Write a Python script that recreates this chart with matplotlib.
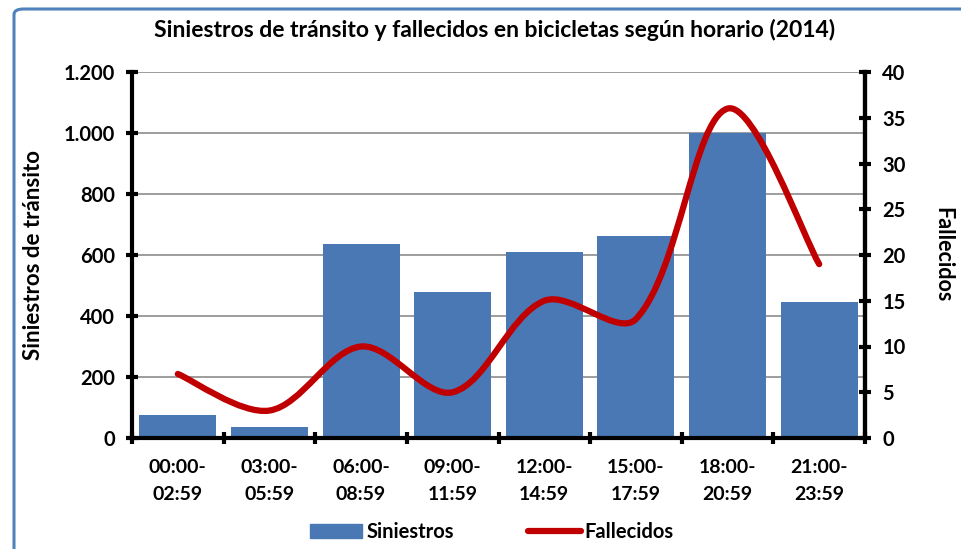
import matplotlib
matplotlib.use("Agg")
import matplotlib.pyplot as plt
import numpy as np
from matplotlib.path import Path
from matplotlib.patches import PathPatch, FancyBboxPatch
from matplotlib.lines import Line2D
from matplotlib.patches import Patch

plt.rcParams['font.family'] = ['Lato', 'DejaVu Sans']
plt.rcParams['font.weight'] = 'bold'

# data
horarios = ["00:00-\n02:59", "03:00-\n05:59", "06:00-\n08:59", "09:00-\n11:59",
            "12:00-\n14:59", "15:00-\n17:59", "18:00-\n20:59", "21:00-\n23:59"]
siniestros = [75, 36, 636, 479, 610, 662, 1000, 446]
fallecidos = [7, 3, 10, 5, 15, 13, 36, 19]

bar_color = '#4A78B4'
line_color = '#C00000'

fig = plt.figure(figsize=(9.61, 5.49), dpi=100)

# blue frame around the chart
frame = FancyBboxPatch((14 / 961, -0.05), 1.2, 1.05 - 9 / 549, boxstyle="round,pad=0,rounding_size=0.01",
                       transform=fig.transFigure, fill=False, edgecolor='#4F81BD', linewidth=2.2)
fig.patches.append(frame)

ax = fig.add_axes([132 / 961, 1 - 438 / 549, (865 - 132) / 961, (438 - 72) / 549])
x = np.arange(len(horarios))
ax.bar(x, siniestros, width=0.84, color=bar_color, zorder=2)
ax.set_xlim(-0.5, len(horarios) - 0.5)
ax.set_ylim(0, 1200)
ax.set_yticks(range(0, 1201, 200))
ax.set_yticklabels(['0', '200', '400', '600', '800', '1.000', '1.200'])
ax.yaxis.grid(True, color='#8C8C8C', linewidth=1.2, zorder=0)
ax.set_axisbelow(True)
ax.set_xticks(x)
ax.set_xticklabels(horarios, fontsize=14, fontweight='bold', linespacing=1.75)
ax.set_xticks(np.arange(-0.5, len(horarios)), minor=True)
ax.tick_params(axis='x', which='major', length=0, pad=15)
ax.tick_params(axis='x', which='minor', length=9, width=3, direction='inout')
ax.tick_params(axis='y', length=9, width=3, direction='inout', labelsize=14.5, pad=8)
for t in ax.get_yticklabels():
    t.set_fontweight('bold')
ax.spines['top'].set_visible(False)
for s in ['left', 'bottom', 'right']:
    ax.spines[s].set_linewidth(3)
ax.set_ylabel('Siniestros de tránsito', fontsize=16, fontweight='bold', labelpad=14)

ax2 = ax.twinx()
ax2.set_ylim(0, 40)
ax2.set_yticks(range(0, 41, 5))
ax2.tick_params(axis='y', length=9, width=3, direction='inout', labelsize=14.5, pad=8)
for t in ax2.get_yticklabels():
    t.set_fontweight('bold')
ax2.spines['top'].set_visible(False)
ax2.spines['right'].set_linewidth(3)
ax2.set_ylabel('Fallecidos', fontsize=15.5, fontweight='bold', rotation=270, labelpad=34)

# smoothed line (bezier through the points, tangents weighted by segment length on screen)
pts = np.column_stack([x, fallecidos]).astype(float)
sx, sy = 91.6, 9.15  # px per unit on each axis, only for segment lengths
d = np.hypot(np.diff(pts[:, 0]) * sx, np.diff(pts[:, 1]) * sy)
n = len(pts)
tang = np.zeros_like(pts)
for i in range(n):
    a = pts[i - 1] if i > 0 else pts[i]
    b = pts[i + 1] if i < n - 1 else pts[i]
    tang[i] = b - a
verts = [pts[0]]
codes = [Path.MOVETO]
for i in range(n - 1):
    dl = d[i - 1] if i > 0 else d[i]
    dr = d[i + 1] if i + 1 < n - 1 else d[i]
    c1 = pts[i] + tang[i] / 3 * d[i] / (dl + d[i])
    c2 = pts[i + 1] - tang[i + 1] / 3 * d[i] / (d[i] + dr)
    verts += [c1, c2, pts[i + 1]]
    codes += [Path.CURVE4] * 3
ax2.add_patch(PathPatch(Path(verts, codes), fill=False, edgecolor=line_color,
                        linewidth=4.5, capstyle='round', zorder=3))

fig.suptitle('Siniestros de tránsito y fallecidos en bicicletas según horario (2014)',
             x=0.515, y=1 - 30 / 549, va='center', fontsize=16.5, fontweight='bold')

handles = [Patch(color=bar_color), Line2D([], [], color=line_color, linewidth=4.5, solid_capstyle='round')]
fig.legend(handles, ['Siniestros', 'Fallecidos'], loc='center', bbox_to_anchor=(0.512, 1 - 532 / 549),
           ncol=2, frameon=False, handlelength=2.6, handletextpad=0.2, columnspacing=3.7,
           prop={'weight': 'bold', 'size': 14.5})

fig.savefig('out.png', dpi=100)
